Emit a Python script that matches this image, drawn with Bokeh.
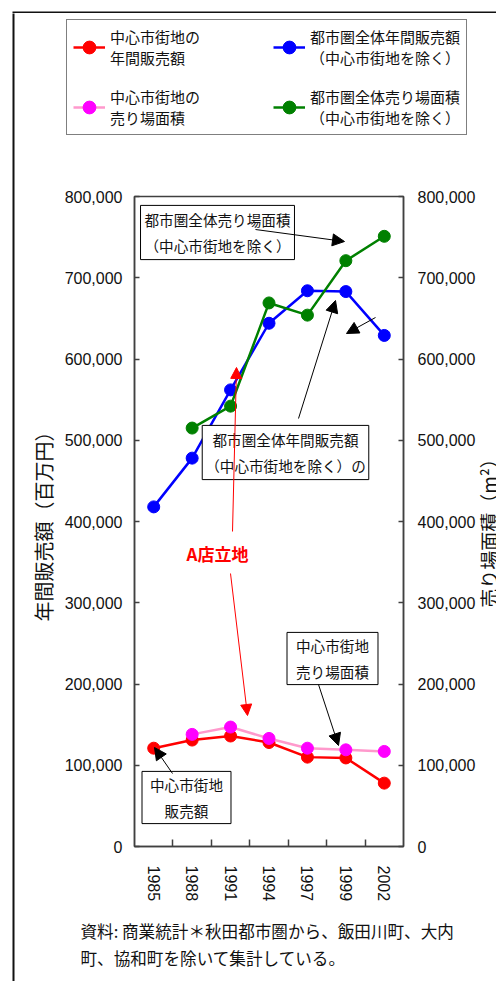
import math
from bokeh.plotting import figure
from bokeh.layouts import column, row
from bokeh.models import (ColumnDataSource, Range1d, LinearAxis, FixedTicker,
                          NumeralTickFormatter, Label, Arrow, NormalHead, Legend, LegendItem)
from bokeh.embed import file_html
from bokeh.resources import INLINE

# ---------------- data ----------------
years = ["1985", "1988", "1991", "1994", "1997", "1999", "2002"]
cbd_sales = [121000, 131000, 136000, 128000, 110000, 109000, 78000]          # 中心市街地の年間販売額
metro_sales = [418000, 478000, 562000, 644000, 684000, 683000, 629000]       # 都市圏全体年間販売額
cbd_area = [float("nan"), 138000, 147000, 133000, 121000, 119000, 117000]    # 中心市街地の売り場面積
metro_area = [float("nan"), 515000, 542000, 669000, 654000, 721000, 751000]  # 都市圏全体売り場面積
y_ticks = [0, 100000, 200000, 300000, 400000, 500000, 600000, 700000, 800000]

JP = "Noto Sans CJK JP"
NUM = "Liberation Sans"
INK = "#111111"
AX = "#404040"

W, H = 496, 981
HDR_H = 13           # strip holding the top edge of the page frame
TOP_H = 186          # page y where the main chart figure starts
LS_W = 20            # width of the left border strip
RS_W = 18            # width of the right axis-title strip
FOOT_H = 71          # height of the footer strip
MAIN_W = W - LS_W - RS_W
MAIN_H = H - TOP_H - FOOT_H
FL, FT, FR, FB = 134, 196, 403, 846   # plot frame in page pixels


def blank(width, height, left=0, right=0, top=0, bottom=0, fill="white"):
    f = figure(width=width, height=height, output_backend="svg", toolbar_location=None,
               title=None, x_axis_location=None, y_axis_location=None,
               min_border_left=left, min_border_right=right, min_border_top=top,
               min_border_bottom=bottom, x_range=Range1d(0, 1), y_range=Range1d(0, 1),
               background_fill_color=fill, border_fill_color="white")
    f.grid.visible = False
    f.outline_line_color = None
    return f


def seg(f, fl, fb, x0, y0, x1, y1, color="black", width=1.0, head=12):
    """arrow given in page pixels, for a figure whose frame has left fl and bottom fb"""
    f.add_layout(Arrow(x_start=x0 - fl, y_start=fb - y0, x_end=x1 - fl, y_end=fb - y1,
                       start_units="screen", end_units="screen", line_color=color,
                       line_width=width,
                       end=NormalHead(size=head, fill_color=color, line_color=color, line_width=1)))


RED, PINK_L, PINK_M, BLUE, GREEN = "#ff0000", "#ff99cc", "#ff00ff", "#0000ff", "#008000"
series = [  # column, legend label, line colour, marker colour, range
    ("cbd_sales", "中心市街地の\n年間販売額", RED, RED, "default"),
    ("cbd_area", "中心市街地の\n売り場面積", PINK_L, PINK_M, "area"),
    ("metro_sales", "都市圏全体年間販売額\n（中心市街地を除く）", BLUE, BLUE, "default"),
    ("metro_area", "都市圏全体売り場面積\n（中心市街地を除く）", GREEN, GREEN, "area"),
]
legend_order = ["cbd_sales", "metro_sales", "cbd_area", "metro_area"]

# ================= main chart =================
xc = [i + 0.5 for i in range(len(years))]
src = ColumnDataSource(dict(x=xc, cbd_sales=cbd_sales, metro_sales=metro_sales,
                            cbd_area=cbd_area, metro_area=metro_area))

p = figure(width=MAIN_W, height=MAIN_H, output_backend="svg", toolbar_location=None, title=None,
           x_range=Range1d(0, len(years)), y_range=Range1d(0, 800000),
           min_border_left=FL - LS_W, min_border_right=LS_W + MAIN_W - FR,
           min_border_top=FT - TOP_H, min_border_bottom=TOP_H + MAIN_H - FB,
           background_fill_color="white", border_fill_color="white")
p.extra_y_ranges = {"area": Range1d(0, 800000)}
p.grid.visible = False
p.outline_line_color = AX
p.outline_line_width = 1.5

xa = p.xaxis[0]
xa.ticker = FixedTicker(ticks=xc, minor_ticks=[i for i in range(1, len(years))])
xa.major_label_overrides = {c: y for c, y in zip(xc, years)}
xa.major_label_orientation = -math.pi / 2
xa.major_tick_in = 0
xa.major_tick_out = 0
xa.minor_tick_in = 7
xa.minor_tick_out = 0
xa.minor_tick_line_color = AX
xa.minor_tick_line_width = 1.5
xa.major_label_standoff = 19
xa.major_label_text_font = NUM
xa.major_label_text_font_size = "16px"
xa.major_label_text_color = INK
xa.axis_line_color = AX
xa.axis_line_width = 1.5

ya = p.yaxis[0]
ya.ticker = FixedTicker(ticks=y_ticks)
ya.formatter = NumeralTickFormatter(format="0,0")
ya.major_tick_in = 5
ya.major_tick_out = 0
ya.minor_tick_line_color = None
ya.major_tick_line_color = AX
ya.major_tick_line_width = 1.5
ya.axis_line_color = AX
ya.axis_line_width = 1.5
ya.major_label_standoff = 12
ya.major_label_text_font = NUM
ya.major_label_text_font_size = "16px"
ya.major_label_text_color = INK
ya.axis_label = "年間販売額（百万円）"
ya.axis_label_text_font = JP
ya.axis_label_text_font_size = "20px"
ya.axis_label_text_font_style = "normal"
ya.axis_label_text_color = INK
ya.axis_label_standoff = 4

ra = LinearAxis(y_range_name="area", ticker=FixedTicker(ticks=y_ticks),
                formatter=NumeralTickFormatter(format="0,0"))
ra.major_tick_in = 5
ra.major_tick_out = 0
ra.minor_tick_line_color = None
ra.major_tick_line_color = AX
ra.major_tick_line_width = 1.5
ra.axis_line_color = AX
ra.axis_line_width = 1.5
ra.major_label_standoff = 14
ra.major_label_text_font = NUM
ra.major_label_text_font_size = "16px"
ra.major_label_text_color = INK
p.add_layout(ra, "right")

for col, lab, lc, mc, rng in series:
    p.line("x", col, source=src, line_color=lc, line_width=2.5, y_range_name=rng)
    p.scatter("x", col, source=src, size=12, fill_color=mc, line_color=mc, y_range_name=rng)


def box_label(text, cx, cy, pad_x, pad_y, size="14.6px"):
    p.add_layout(Label(x=cx - FL, y=FB - cy, x_units="screen", y_units="screen", text=text,
                       text_align="center", text_baseline="middle", text_font=JP,
                       text_font_size=size, text_line_height=1.2, text_color=INK,
                       border_line_color="black", border_line_width=1,
                       background_fill_color="white", background_fill_alpha=1.0,
                       padding=dict(left=pad_x, right=pad_x, top=pad_y, bottom=pad_y)))


box_label("都市圏全体売り場面積\n（中心市街地を除く）", 217, 232, 4, 4)
box_label("都市圏全体年間販売額\n（中心市街地を除く）の", 285, 452, 3, 4)
box_label("中心市街地\n販売額", 186, 797, 8, 3)
box_label("中心市街地\n売り場面積", 332, 658, 9, 3)

p.add_layout(Label(x=217 - FL, y=FB - 553, x_units="screen", y_units="screen", text="A店立地",
                   text_align="center", text_baseline="middle", text_font=JP,
                   text_font_size="17px", text_font_style="bold", text_color=RED))

seg(p, FL, FB, 255, 229, 344, 241)
seg(p, FL, FB, 298, 418, 335, 300)
seg(p, FL, FB, 375, 317, 346, 333)
seg(p, FL, FB, 172, 773, 154, 747)
seg(p, FL, FB, 318, 684, 338, 745)
seg(p, FL, FB, 232, 531, 236, 367, color=RED, head=11)
seg(p, FL, FB, 230, 573, 247, 715, color=RED, head=11)

# ================= page frame: top edge and left edge (frames filled dark) =================
hdr = blank(W, HDR_H, left=12, top=11, fill="#111111")          # dark band x 12..496, y 11..13
left = blank(LS_W, H - HDR_H, left=12, right=LS_W - 14, fill="#111111")  # dark band x 12..14

# ================= legend strip =================
# legend keys: same series drawn in a strip whose ranges keep the data out of view
top = blank(W - LS_W, TOP_H - HDR_H)
keys = {}
for col, lab, lc, mc, rng in series:
    rl = top.line("x", col, source=src, line_color=lc, line_width=2.5)
    rs = top.scatter("x", col, source=src, size=12, fill_color=mc, line_color=mc)
    keys[col] = LegendItem(label=lab, renderers=[rl, rs])
legend = Legend(items=[keys[c] for c in legend_order], location=(66 - LS_W, TOP_H - 135),
                orientation="horizontal", ncols=2,
                label_text_font=JP, label_text_font_size="15px", label_text_line_height=1.07,
                label_text_color=INK, glyph_width=32, glyph_height=32, label_standoff=5,
                spacing=18, padding=6, label_width=145, margin=0,
                border_line_color="black", border_line_width=1,
                background_fill_color="white", background_fill_alpha=1.0)
top.add_layout(legend, "center")

# ================= right axis title strip =================
right = blank(RS_W, MAIN_H)
right.add_layout(Label(x=488 - (W - RS_W), y=(TOP_H + MAIN_H) - 592, x_units="screen",
                       y_units="screen", text="売り場面積（m²）", angle=math.pi / 2,
                       text_align="center", text_baseline="middle", text_font=JP,
                       text_font_size="19px", text_color=INK))

# ================= footer strip =================
foot = blank(W - LS_W, FOOT_H)
foot.add_layout(Label(x=80 - LS_W, y=H - 918, x_units="screen", y_units="screen",
                      text="資料: 商業統計＊秋田都市圏から、飯田川町、大内\n町、協和町を除いて集計している。",
                      text_align="left", text_baseline="top", text_font=JP,
                      text_font_size="16.6px", text_line_height=1.15, text_color=INK))

layout = column(hdr, row(left, column(top, row(p, right), foot)))
open("out.html", "w").write(file_html(layout, INLINE))
